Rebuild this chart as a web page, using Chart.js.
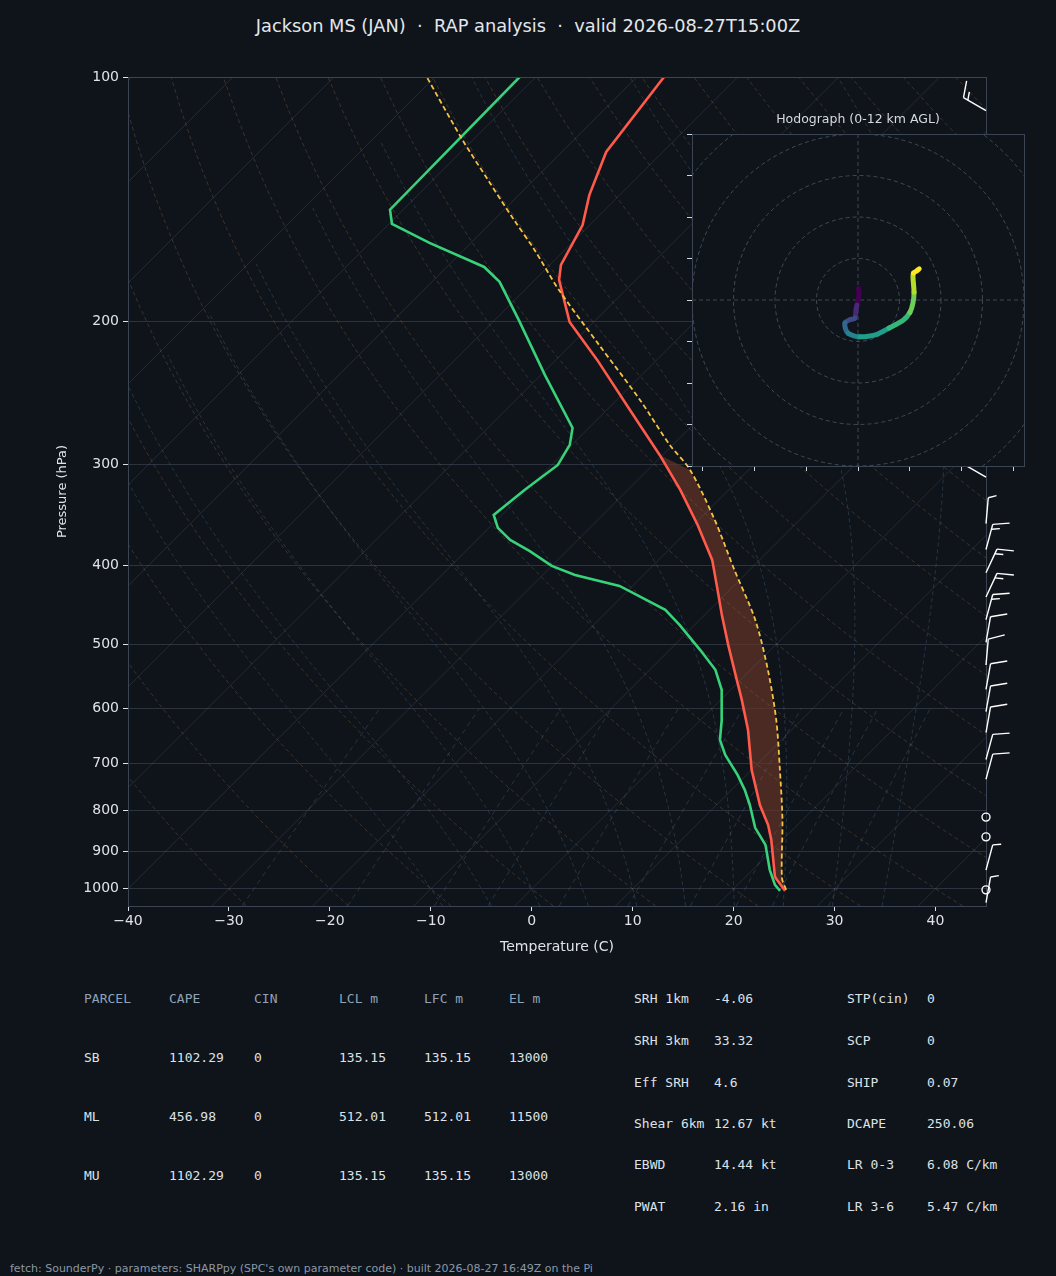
<!DOCTYPE html>
<html>
<head>
<meta charset="utf-8">
<script src="https://cdn.jsdelivr.net/npm/chart.js@4.4.1/dist/chart.umd.min.js"></script>
<style>
  body { margin: 0; background: #0f131a; width: 1056px; height: 1276px; overflow: hidden; position: relative; font-family: "DejaVu Sans", sans-serif; }
  #title { position: absolute; top: 15px; left: 0; width: 1056px; text-align: center; color: #e3e7ec; font-size: 17.8px; white-space: pre; }
  #skewWrap { position: absolute; left: 0; top: 0; }
  #hodoWrap { position: absolute; left: 680px; top: 110px; }
  #hodoTitle { position: absolute; left: 692px; top: 111px; width: 332px; text-align: center; color: #d5dae0; font-size: 12.5px; }
  .t { position: absolute; font-family: "DejaVu Sans Mono", monospace; font-size: 13px; color: #dde2e8; white-space: pre; }
  .h { color: #8fa3b8; }
  #foot { position: absolute; left: 10px; top: 1262px; font-size: 11px; color: #8c98a5; }
</style>
</head>
<body>
<div id="title">Jackson MS (JAN)  ·  RAP analysis  ·  valid 2026-08-27T15:00Z</div>
<div id="skewWrap"><canvas id="skew" width="1056" height="970"></canvas></div>
<div id="hodoWrap"><canvas id="hodo" width="360" height="370"></canvas></div>
<div id="hodoTitle">Hodograph (0-12 km AGL)</div>
<div id="tables"></div>
<div id="foot">fetch: SounderPy · parameters: SHARPpy (SPC's own parameter code) · built 2026-08-27 16:49Z on the Pi</div>
<script>
// sounding profile (pressure hPa, temperature C)
const tempP = [1005.8, 974.8, 966.5, 870.8, 834.5, 788.4, 713.6, 637.4, 585.2, 545.1, 500.6, 459.8, 428.3, 393.4, 356.3, 322.5, 292.1, 257.1, 223.1, 200.3, 177.8, 170.4, 152.2, 139.8, 123.7, 100];
const tempT = [25.3, 23.4, 22.9, 18.9, 17.1, 14.3, 10.0, 5.7, 2.1, -1.0, -4.7, -8.3, -11.2, -14.7, -19.6, -24.8, -30.3, -37.7, -45.9, -52.4, -57.6, -58.9, -60.7, -63.0, -65.6, -67.3];
const dewP = [1005.8, 988.8, 947.6, 882.8, 841.3, 788.4, 755.3, 723.8, 683.9, 655.6, 619.5, 568.6, 537.3, 507.7, 473.0, 453.3, 423.6, 410.6, 400.2, 383.5, 371.7, 359.3, 346.3, 322.5, 300.5, 283.9, 270.6, 232.8, 199.3, 178.8, 171.4, 160.1, 151.7, 145.7, 100];
const dewT = [24.8, 23.7, 21.7, 18.8, 16.1, 13.3, 11.3, 9.1, 5.9, 3.9, 2.1, -0.9, -3.5, -7.0, -11.5, -14.4, -21.3, -26.8, -30.0, -33.7, -36.7, -39.1, -40.8, -40.2, -39.4, -40.2, -41.6, -49.6, -57.6, -63.3, -66.3, -74.1, -79.7, -81.3, -81.6];
const parcelP = [1002.8, 969.4, 822.3, 713.6, 619.5, 537.3, 466.3, 404.8, 351.3, 304.8, 283.9, 249.9, 213.8, 183.0, 163.3, 150.0, 134.0, 119.6, 100];
const parcelT = [25.3, 23.7, 18.0, 12.8, 7.5, 1.7, -4.5, -11.5, -18.4, -25.8, -30.3, -37.7, -47.2, -56.6, -63.0, -68.0, -74.5, -81.0, -90.8];
const capeTopP = 300;

// wind barbs at the right edge (pressure, speed kt, direction deg)
const barbP = [110, 311, 355, 382, 408, 437, 466, 497, 530, 568, 605, 642, 693, 733, 816, 863, 948, 1003, 1040];
const barbSpd = [15, 15, 5, 15, 15, 15, 15, 10, 10, 10, 10, 10, 10, 10, 0, 0, 5, 0, 5];
const barbDir = [300, 300, 5, 15, 25, 25, 15, 10, 5, 10, 10, 10, 15, 15, 0, 0, 15, 0, 10];

// hodograph (kt), surface first
const hodoU = [0.1, 0.2, 0.0, -0.2, -0.4, -0.6, -1.6, -2.5, -2.4, -1.9, -0.8, 0.4, 2.0, 3.7, 6.0, 8.7, 10.0, 10.6, 10.8, 10.6, 10.7, 11.3, 11.8];
const hodoV = [2.2, 1.2, 0.0, -1.0, -1.9, -3.5, -3.8, -4.4, -5.6, -6.4, -6.9, -7.1, -7.0, -6.6, -5.4, -3.9, -2.4, -0.6, 1.5, 4.4, 5.2, 5.6, 6.0];

// parameter tables
const parcelHead = ['PARCEL', 'CAPE', 'CIN', 'LCL m', 'LFC m', 'EL m'];
const parcelRows = [
  ['SB', '1102.29', '0', '135.15', '135.15', '13000'],
  ['ML', '456.98', '0', '512.01', '512.01', '11500'],
  ['MU', '1102.29', '0', '135.15', '135.15', '13000']
];
const paramsLeft = [['SRH 1km', '-4.06'], ['SRH 3km', '33.32'], ['Eff SRH', '4.6'], ['Shear 6km', '12.67 kt'], ['EBWD', '14.44 kt'], ['PWAT', '2.16 in']];
const paramsRight = [['STP(cin)', '0'], ['SCP', '0'], ['SHIP', '0.07'], ['DCAPE', '250.06'], ['LR 0-3', '6.08 C/km'], ['LR 3-6', '5.47 C/km']];

const SKEW = 80.4;
const BG = '#0f131a';
const sx = (t, p) => t + SKEW * Math.log10(1000 / p);
const pts = (P, T) => P.map((p, i) => ({ x: sx(T[i], p), y: p }));

// background thermo lines
const bgSets = [];
function bgLine(data, color, dash) {
  bgSets.push({ data, borderColor: color, borderWidth: 1, borderDash: dash, pointRadius: 0, showLine: true, order: 10 });
}
const levels = [];
for (let p = 1050; p >= 100; p -= 10) levels.push(p);
for (let t = -130; t <= 40; t += 10) bgLine([{ x: sx(t, 1050), y: 1050 }, { x: sx(t, 100), y: 100 }], 'rgba(120,132,148,0.22)', []);
for (let th = -30; th <= 200; th += 10) {
  bgLine(levels.map(p => ({ x: sx((th + 273.15) * Math.pow(p / 1000, 0.2857) - 273.15, p), y: p })), 'rgba(150,112,72,0.35)', [4, 3]);
}
const es = t => 6.112 * Math.exp(17.67 * t / (t + 243.5));
function moistSlope(t, p) {
  const Tk = t + 273.15, rs = 0.622 * es(t) / (p - es(t));
  const Rd = 287, cp = 1005, Lv = 2.5e6;
  return (Rd * Tk / (cp * p)) * (1 + Lv * rs / (Rd * Tk)) / (1 + Lv * Lv * rs * 0.622 / (cp * Rd * Tk * Tk));
}
for (let t0 = -10; t0 <= 36; t0 += 5) {
  const line = [];
  let t = t0;
  for (let p = 1000; p <= 1050; p += 5) { line.unshift({ x: sx(t, p), y: p }); t += moistSlope(t, p) * 5; }
  t = t0;
  for (let p = 1000; p >= 100 && t > -90; p -= 5) { line.push({ x: sx(t, p), y: p }); t -= moistSlope(t, p) * 5; }
  bgLine(line, 'rgba(70,105,130,0.4)', [4, 3]);
}
[0.4, 1, 2, 3, 5, 8, 12, 16, 20, 28].forEach(w => {
  const line = [];
  for (let p = 1050; p >= 600; p -= 25) {
    const e = (w / 1000) * p / (0.622 + w / 1000), l = Math.log(e / 6.112);
    line.push({ x: sx(243.5 * l / (17.67 - l), p), y: p });
  }
  bgLine(line, 'rgba(70,105,130,0.4)', [5, 4]);
});

// CAPE shading + frame + barbs
const skewExtras = {
  id: 'skewExtras',
  beforeDatasetsDraw(chart) {
    const { ctx, scales: { x, y }, chartArea: a } = chart;
    ctx.save();
    ctx.beginPath(); ctx.rect(a.left, a.top, a.width, a.height); ctx.clip();
    ctx.beginPath();
    parcelP.forEach((p, i) => { if (p >= capeTopP) ctx.lineTo(x.getPixelForValue(sx(parcelT[i], p)), y.getPixelForValue(p)); });
    for (let i = tempP.length - 1; i >= 0; i--) if (tempP[i] >= capeTopP - 8) ctx.lineTo(x.getPixelForValue(sx(tempT[i], tempP[i])), y.getPixelForValue(tempP[i]));
    ctx.closePath();
    ctx.fillStyle = 'rgba(100,52,38,0.7)';
    ctx.fill();
    ctx.restore();
  },
  afterDraw(chart) {
    const { ctx, scales: { x, y }, chartArea: a } = chart;
    ctx.save();
    ctx.strokeStyle = '#3a4452'; ctx.lineWidth = 1;
    ctx.strokeRect(a.left + 0.5, a.top + 0.5, a.width, a.height);
    ctx.strokeStyle = '#ffffff'; ctx.lineWidth = 1.4;
    const bx = a.right;
    barbP.forEach((p, i) => {
      const by = y.getPixelForValue(p), spd = barbSpd[i];
      if (spd < 2.5) { ctx.beginPath(); ctx.arc(bx, by, 4, 0, 2 * Math.PI); ctx.stroke(); return; }
      const d = barbDir[i] * Math.PI / 180, dx = Math.sin(d), dy = -Math.cos(d);
      const L = 26, tx = bx + dx * L, ty = by + dy * L;
      ctx.beginPath(); ctx.moveTo(bx, by); ctx.lineTo(tx, ty); ctx.stroke();
      const px = -dy, py = dx; // clockwise perpendicular
      let rem = spd, k = 0;
      while (rem >= 5) {
        const full = rem >= 10, fl = full ? 16 : 8;
        const ox = tx - dx * k * 5, oy = ty - dy * k * 5;
        ctx.beginPath(); ctx.moveTo(ox, oy);
        ctx.lineTo(ox + px * fl + dx * fl * 0.35, oy + py * fl + dy * fl * 0.35);
        ctx.stroke();
        rem -= full ? 10 : 5; k++;
      }
    });
    ctx.restore();
  }
};

const tickFont = { family: 'DejaVu Sans', size: 14 };
new Chart(document.getElementById('skew'), {
  type: 'scatter',
  data: {
    datasets: [
      { data: pts(tempP, tempT), borderColor: '#ff5a4a', borderWidth: 2.6, pointRadius: 0, showLine: true, order: 1 },
      { data: pts(dewP, dewT), borderColor: '#37d27a', borderWidth: 2.6, pointRadius: 0, showLine: true, order: 1 },
      { data: pts(parcelP, parcelT), borderColor: '#f5c242', borderWidth: 1.8, borderDash: [5, 3], pointRadius: 0, showLine: true, tension: 0.3, order: 0 },
      ...bgSets
    ]
  },
  options: {
    responsive: false, animation: false, events: [],
    layout: { padding: { left: 55, right: 70, top: 77, bottom: 14 } },
    plugins: { legend: { display: false }, tooltip: { enabled: false } },
    scales: {
      x: {
        type: 'linear', min: -40, max: 45,
        afterBuildTicks: s => { s.ticks = [-40, -30, -20, -10, 0, 10, 20, 30, 40].map(v => ({ value: v })); },
        afterFit: s => { s.height = 50; },
        ticks: { color: '#dfe3e8', font: tickFont, padding: 2, callback: v => String(v).replace('-', '\u2212') },
        grid: { drawOnChartArea: false, tickColor: '#dfe3e8', tickLength: 5 },
        border: { display: false },
        title: { display: true, text: 'Temperature (C)', color: '#dfe3e8', font: { family: 'DejaVu Sans', size: 14 }, padding: 0 }
      },
      y: {
        type: 'logarithmic', reverse: true, min: 100, max: 1050,
        afterBuildTicks: s => { s.ticks = [100, 200, 300, 400, 500, 600, 700, 800, 900, 1000].map(v => ({ value: v })); },
        afterFit: s => { s.width = 73; },
        ticks: { color: '#dfe3e8', font: tickFont, padding: 4, callback: v => String(v) },
        grid: { color: 'rgba(80,92,108,0.45)', tickColor: '#dfe3e8', tickLength: 5 },
        border: { display: false },
        title: { display: true, text: 'Pressure (hPa)', color: '#dfe3e8', font: { family: 'DejaVu Sans', size: 13 }, padding: 0 }
      }
    }
  },
  plugins: [skewExtras]
});

// hodograph
const viridis = ['#440154', '#482878', '#3e4989', '#31688e', '#26828e', '#1f9e89', '#35b779', '#6ece58', '#b5de2b', '#fde725'];
const vcol = f => viridis[Math.min(viridis.length - 1, Math.floor(f * viridis.length))];
const hodoFrame = {
  id: 'hodoFrame',
  beforeDatasetsDraw(chart) {
    const { ctx, scales: { x, y }, chartArea: a } = chart;
    ctx.save();
    ctx.fillStyle = BG; ctx.fillRect(a.left, a.top, a.width, a.height);
    ctx.beginPath(); ctx.rect(a.left, a.top, a.width, a.height); ctx.clip();
    const cx = x.getPixelForValue(0), cy = y.getPixelForValue(0), k = a.width / 64;
    ctx.strokeStyle = 'rgba(95,108,125,0.6)'; ctx.lineWidth = 1; ctx.setLineDash([4, 3]);
    [8, 16, 24, 32, 40].forEach(r => { ctx.beginPath(); ctx.arc(cx, cy, r * k, 0, 2 * Math.PI); ctx.stroke(); });
    ctx.beginPath(); ctx.moveTo(a.left, cy); ctx.lineTo(a.right, cy); ctx.moveTo(cx, a.top); ctx.lineTo(cx, a.bottom); ctx.stroke();
    ctx.restore();
  },
  afterDraw(chart) {
    const { ctx, chartArea: a } = chart;
    ctx.save(); ctx.strokeStyle = '#3a4452'; ctx.lineWidth = 1;
    ctx.strokeRect(a.left + 0.5, a.top + 0.5, a.width, a.height); ctx.restore();
  }
};
new Chart(document.getElementById('hodo'), {
  type: 'scatter',
  data: {
    datasets: [{
      data: hodoU.map((u, i) => ({ x: u, y: hodoV[i] })),
      showLine: true, pointRadius: 0, borderWidth: 5, borderCapStyle: 'round', tension: 0.3,
      segment: { borderColor: c => vcol(c.p0DataIndex / (hodoU.length - 1)) }
    }]
  },
  options: {
    responsive: false, animation: false, events: [],
    layout: { padding: { left: 7, right: 16, top: 24, bottom: 9 } },
    plugins: { legend: { display: false }, tooltip: { enabled: false } },
    scales: {
      x: {
        min: -32, max: 32,
        afterBuildTicks: s => { s.ticks = [-30, -20, -10, 0, 10, 20, 30].map(v => ({ value: v })); },
        afterFit: s => { s.height = 5; },
        ticks: { display: false },
        grid: { drawOnChartArea: false, tickColor: '#cfd5dc', tickLength: 5 }, border: { display: false }
      },
      y: {
        min: -32, max: 32,
        afterBuildTicks: s => { s.ticks = [-32, -24, -16, -8, 0, 8, 16, 24, 32].map(v => ({ value: v })); },
        afterFit: s => { s.width = 5; },
        ticks: { display: false },
        grid: { drawOnChartArea: false, tickColor: '#cfd5dc', tickLength: 5 }, border: { display: false }
      }
    }
  },
  plugins: [hodoFrame]
});

// tables as text
const tb = document.getElementById('tables');
function put(txt, x, y, cls) {
  const d = document.createElement('div');
  d.className = 't' + (cls ? ' ' + cls : '');
  d.style.left = x + 'px'; d.style.top = (y - 8) + 'px';
  d.textContent = txt; tb.appendChild(d);
}
const colX = [84, 169, 254, 339, 424, 509];
parcelHead.forEach((h, i) => put(h, colX[i], 999, 'h'));
parcelRows.forEach((r, j) => r.forEach((v, i) => put(v, colX[i], 1058 + j * 59)));
const prY = [999, 1041, 1083, 1124, 1165, 1207];
paramsLeft.forEach((r, j) => { put(r[0], 634, prY[j]); put(r[1], 714, prY[j]); });
paramsRight.forEach((r, j) => { put(r[0], 847, prY[j]); put(r[1], 927, prY[j]); });
</script>
</body>
</html>
